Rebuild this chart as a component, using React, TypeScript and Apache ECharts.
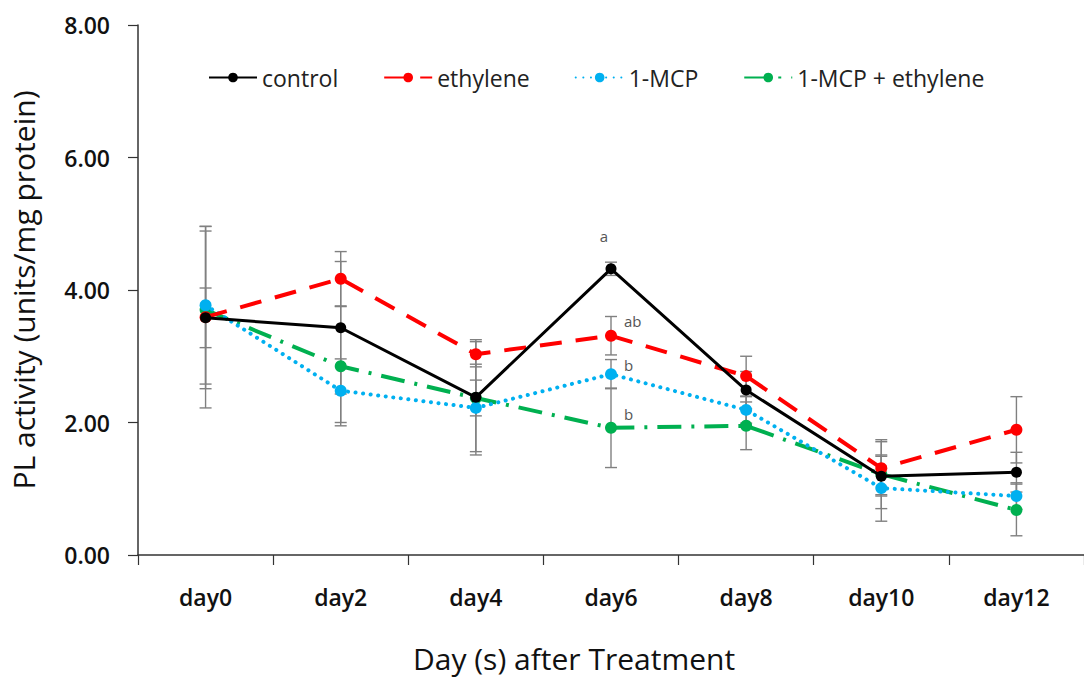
import React, { useEffect, useRef } from "react";
import * as echarts from "echarts";

const categories = ["day0", "day2", "day4", "day6", "day8", "day10", "day12"];
const yTicks = [0, 2, 4, 6, 8];

const controlValues = [3.58, 3.43, 2.38, 4.32, 2.49, 1.19, 1.25];
const controlErrors = [0.45, 1.0, 0.87, 0.1, 0.28, 0.3, 0.3];

const ethyleneValues = [3.59, 4.17, 3.03, 3.31, 2.7, 1.31, 1.89];
const ethyleneErrors = [1.37, 0.41, 0.19, 0.29, 0.3, 0.4, 0.5];

const mcpValues = [3.77, 2.48, 2.22, 2.73, 2.19, 1.01, 0.89];
const mcpErrors = [1.19, 0.48, 0.66, 0.22, 0.2, 0.5, 0.2];

const mcpEthValues = [3.7, 2.85, 2.37, 1.92, 1.95, 1.22, 0.68];
const mcpEthErrors = [1.19, 0.9, 0.27, 0.6, 0.36, 0.52, 0.39];

const seriesNames = ["control", "ethylene", "1-MCP", "1-MCP + ethylene"];
// significance letters at day6 (index 3)
const letterIndex = 3;
const letters = ["a", "ab", "b", "b"];

const FONT = "'Open Sans', 'Noto Sans', sans-serif";

function errorSeries(values: number[], errors: number[]) {
  return {
    type: "custom",
    silent: true,
    z: 1,
    data: values.map((v, i) => [i, v, errors[i]]),
    renderItem: (params: any, api: any) => {
      const x = api.value(0);
      const v = api.value(1);
      const e = api.value(2);
      const top = api.coord([x, v + e]);
      const bot = api.coord([x, v - e]);
      const w = 6;
      const style = { stroke: "#808080", lineWidth: 1.4 };
      return {
        type: "group",
        children: [
          { type: "line", shape: { x1: top[0], y1: top[1], x2: bot[0], y2: bot[1] }, style },
          { type: "line", shape: { x1: top[0] - w, y1: top[1], x2: top[0] + w, y2: top[1] }, style },
          { type: "line", shape: { x1: bot[0] - w, y1: bot[1], x2: bot[0] + w, y2: bot[1] }, style },
        ],
      };
    },
  };
}

function withLetter(values: number[], letter: string, labelOpts: any) {
  return values.map((v, i) =>
    i === letterIndex
      ? {
          value: v,
          label: {
            show: true,
            formatter: letter,
            color: "#555",
            fontSize: 15,
            fontFamily: FONT,
            ...labelOpts,
          },
        }
      : v
  );
}

export default function App() {
  const ref = useRef<HTMLDivElement>(null);

  useEffect(() => {
    if (!ref.current) return;
    const chart = echarts.init(ref.current, null, { renderer: "svg" });
    const colors = ["#000000", "#ff0000", "#00b0f0", "#00b050"];
    const option: any = {
      animation: false,
      backgroundColor: "#ffffff",
      color: colors,
      grid: { left: 135, top: 25, width: 953, height: 530, containLabel: false },
      legend: {
        data: seriesNames,
        left: 203,
        top: 61,
        itemWidth: 48,
        itemHeight: 12,
        itemGap: 45,
        textStyle: { fontSize: 23, color: "#222", fontFamily: FONT },
      },
      xAxis: {
        type: "category",
        data: categories,
        boundaryGap: true,
        axisLine: { lineStyle: { color: "#333", width: 1.5 } },
        axisTick: { show: true, alignWithLabel: false, length: 10, lineStyle: { color: "#333", width: 1.2 } },
        axisLabel: { fontSize: 23, fontWeight: 600, color: "#111", fontFamily: FONT, margin: 30 },
        splitLine: { show: false },
      },
      yAxis: {
        type: "value",
        min: 0,
        max: 8,
        interval: 2,
        name: "PL activity (units/mg protein)",
        nameLocation: "middle",
        nameGap: 100,
        nameTextStyle: { fontSize: 30, color: "#111", fontFamily: FONT },
        axisLine: { show: true, lineStyle: { color: "#333", width: 1.5 } },
        axisTick: { show: true, length: 10, lineStyle: { color: "#333", width: 1.2 } },
        axisLabel: {
          fontSize: 23,
          fontWeight: 600,
          color: "#111",
          fontFamily: FONT,
          margin: 28,
          formatter: (v: number) => (yTicks.includes(v) ? v.toFixed(2) : ""),
        },
        splitLine: { show: false },
      },
      graphic: [
        {
          type: "text",
          left: 413,
          top: 643,
          style: { text: "Day (s) after Treatment", fontSize: 30, fill: "#111", fontFamily: FONT },
        },
      ],
      series: [
        errorSeries(controlValues, controlErrors),
        errorSeries(ethyleneValues, ethyleneErrors),
        errorSeries(mcpValues, mcpErrors),
        errorSeries(mcpEthValues, mcpEthErrors),
        {
          name: seriesNames[3],
          type: "line",
          z: 3,
          symbol: "circle",
          symbolSize: 12,
          data: withLetter(mcpEthValues, letters[3], { position: "right", offset: [2, -14] }),
          itemStyle: { color: colors[3] },
          lineStyle: { color: colors[3], width: 4, type: [24, 10, 3, 10] },
        },
        {
          name: seriesNames[2],
          type: "line",
          z: 4,
          symbol: "circle",
          symbolSize: 12,
          data: withLetter(mcpValues, letters[2], { position: "right", offset: [2, -9] }),
          itemStyle: { color: colors[2] },
          lineStyle: { color: colors[2], width: 4, type: [0.1, 7.5], cap: "round" },
        },
        {
          name: seriesNames[1],
          type: "line",
          z: 5,
          symbol: "circle",
          symbolSize: 12,
          data: withLetter(ethyleneValues, letters[1], { position: "right", offset: [2, -15] }),
          itemStyle: { color: colors[1] },
          lineStyle: { color: colors[1], width: 4, type: [22, 14] },
        },
        {
          name: seriesNames[0],
          type: "line",
          z: 6,
          symbol: "circle",
          symbolSize: 11,
          data: withLetter(controlValues, letters[0], { position: "top", distance: 20, offset: [-7, 0] }),
          itemStyle: { color: colors[0] },
          lineStyle: { color: colors[0], width: 3 },
        },
      ],
    };
    chart.setOption(option);
    return () => chart.dispose();
  }, []);

  return (
    <div
      ref={ref}
      style={{ position: "absolute", left: 0, top: 0, width: 1084, height: 680, background: "#fff" }}
    />
  );
}
